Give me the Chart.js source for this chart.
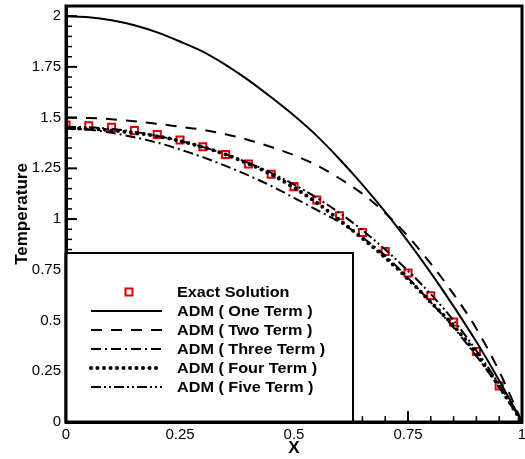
<!DOCTYPE html>
<html>
<head>
<meta charset="utf-8">
<script src="https://cdn.jsdelivr.net/npm/chart.js@4.4.0/dist/chart.umd.min.js"></script>
<style>
  html, body { margin: 0; padding: 0; background: #fff; }
  #wrap { width: 525px; height: 459px; }
</style>
</head>
<body>
<div id="wrap"><canvas id="c" width="525" height="459"></canvas></div>
<script>
const xValues   = [0,0.05,0.1,0.15,0.2,0.25,0.3,0.35,0.4,0.45,0.5,0.55,0.6,0.65,0.7,0.75,0.8,0.85,0.9,0.95,1.0];
const exact     = [1.464,1.460,1.452,1.436,1.417,1.390,1.356,1.318,1.271,1.221,1.160,1.094,1.016,0.934,0.840,0.734,0.622,0.492,0.347,0.178,0];
const oneTerm   = [2.0,1.995,1.98,1.955,1.92,1.875,1.825,1.76,1.685,1.6,1.51,1.41,1.295,1.17,1.035,0.89,0.735,0.57,0.395,0.205,0];
const twoTerm   = [1.50,1.498,1.492,1.482,1.47,1.455,1.44,1.418,1.39,1.355,1.315,1.265,1.2,1.125,1.03,0.915,0.78,0.63,0.46,0.25,0];
const threeTerm = [1.446,1.44,1.425,1.403,1.377,1.343,1.305,1.262,1.215,1.163,1.105,1.045,0.985,0.91,0.82,0.71,0.59,0.465,0.325,0.17,0];
const fourTerm  = [1.448,1.445,1.437,1.425,1.408,1.385,1.355,1.318,1.273,1.22,1.155,1.08,0.995,0.905,0.81,0.705,0.59,0.475,0.335,0.175,0];
const fiveTerm  = [1.455,1.452,1.444,1.43,1.41,1.386,1.355,1.32,1.277,1.228,1.17,1.105,1.03,0.945,0.85,0.745,0.63,0.5,0.352,0.185,0];
const seriesLabels = ['Exact Solution','ADM ( One Term )','ADM ( Two Term )','ADM ( Three Term )','ADM ( Four Term )','ADM ( Five Term )'];
const xTicks = [0,0.25,0.5,0.75,1];
const yTicks = [0,0.25,0.5,0.75,1,1.25,1.5,1.75,2];
const xTitle = 'X';
const yTitle = 'Temperature';

const FONT = "'Liberation Sans', Arial, Helvetica, sans-serif";
const toPts = ys => xValues.map((x, i) => ({x: x, y: ys[i]}));

function lineDs(label, ys, dash, width, cap, order) {
  return {
    label: label, data: toPts(ys), borderColor: '#000', backgroundColor: '#000',
    borderWidth: width, borderDash: dash, borderCapStyle: cap || 'butt',
    pointRadius: 0, fill: false, cubicInterpolationMode: 'monotone', order: order
  };
}

const datasets = [
  {
    label: seriesLabels[0], data: toPts(exact), showLine: false,
    pointStyle: 'rect', pointRadius: 5, pointBorderWidth: 2,
    pointBorderColor: '#e00000', pointBackgroundColor: 'rgba(255,255,255,0)',
    borderColor: '#e00000', order: 10
  },
  lineDs(seriesLabels[1], oneTerm, [], 2, 'butt', 1),
  lineDs(seriesLabels[2], twoTerm, [11, 9], 2, 'butt', 2),
  lineDs(seriesLabels[3], threeTerm, [10, 4, 2, 4], 2, 'butt', 3),
  lineDs(seriesLabels[4], fourTerm, [0, 6.5], 4, 'round', 4),
  lineDs(seriesLabels[5], fiveTerm, [10, 3, 2, 3, 2, 3], 2, 'butt', 5)
];

const decorPlugin = {
  id: 'decor',
  afterDatasetsDraw(chart) {
    const ctx = chart.ctx;
    const ca = chart.chartArea;
    const xs = chart.scales.x, ys = chart.scales.y;
    ctx.save();
    ctx.strokeStyle = '#000';
    // inward ticks
    const minor = 0.05;
    for (let k = 0; k <= 40; k++) {
      const v = Math.round(k * minor * 100) / 100;
      const major = Math.abs(v / 0.25 - Math.round(v / 0.25)) < 1e-6;
      const len = major ? 11 : 6;
      ctx.lineWidth = major ? 2 : 1.5;
      if (v <= 2) {
        const py = ys.getPixelForValue(v);
        ctx.beginPath(); ctx.moveTo(ca.left, py); ctx.lineTo(ca.left + len, py); ctx.stroke();
      }
      if (v <= 1) {
        const px = xs.getPixelForValue(v);
        ctx.beginPath(); ctx.moveTo(px, ca.bottom); ctx.lineTo(px, ca.bottom - len); ctx.stroke();
      }
    }
    // frame
    ctx.lineWidth = 3;
    ctx.strokeRect(ca.left, ca.top, ca.right - ca.left, ca.bottom - ca.top);

    // legend box
    const lx0 = ca.left, lx1 = 353, ly0 = 253, ly1 = ca.bottom;
    ctx.fillStyle = '#fff';
    ctx.fillRect(lx0, ly0, lx1 - lx0, ly1 - ly0);
    ctx.lineWidth = 2;
    ctx.strokeRect(lx0, ly0, lx1 - lx0, ly1 - ly0);
    ctx.lineWidth = 3;
    ctx.beginPath(); ctx.moveTo(ca.left, ly0); ctx.lineTo(ca.left, ly1); ctx.lineTo(lx1, ly1); ctx.stroke();

    const rowY0 = 292, rowDy = 19, sx0 = 91, sx1 = 162, tx = 177;
    ctx.font = 'bold 15px ' + FONT;
    ctx.textBaseline = 'middle';
    ctx.textAlign = 'left';
    chart.data.datasets.forEach((ds, i) => {
      const y = rowY0 + i * rowDy;
      if (ds.showLine === false) {
        ctx.setLineDash([]);
        ctx.strokeStyle = ds.pointBorderColor;
        ctx.lineWidth = 2;
        const s = 3.5;
        ctx.strokeRect(129 - s, y - s, 2 * s, 2 * s);
      } else {
        ctx.strokeStyle = ds.borderColor;
        ctx.lineWidth = ds.borderWidth;
        ctx.lineCap = ds.borderCapStyle;
        ctx.setLineDash(ds.borderDash || []);
        ctx.beginPath(); ctx.moveTo(sx0, y); ctx.lineTo(sx1, y); ctx.stroke();
        ctx.lineCap = 'butt';
      }
      ctx.setLineDash([]);
      ctx.fillStyle = '#000';
      ctx.save();
      ctx.translate(tx, y + 1);
      ctx.scale(1.08, 1);
      ctx.fillText(ds.label, 0, 0);
      ctx.restore();
    });
    ctx.restore();
  }
};

const fmt = v => String(Math.round(v * 100) / 100);

new Chart(document.getElementById('c'), {
  type: 'line',
  data: { datasets: datasets },
  plugins: [decorPlugin],
  options: {
    responsive: false,
    animation: false,
    layout: { autoPadding: false, padding: { top: 6, right: 3, left: 0, bottom: 0 } },
    plugins: { legend: { display: false }, tooltip: { enabled: false } },
    scales: {
      x: {
        type: 'linear', min: 0, max: 1,
        afterBuildTicks(s) { s.ticks = xTicks.map(v => ({value: v})); },
        afterFit(s) { s.height = 37; s.paddingLeft = 0; s.paddingRight = 0; },
        grid: { display: false, drawTicks: false },
        border: { display: true, color: '#000', width: 3 },
        ticks: { color: '#000', padding: 4, maxRotation: 0, autoSkip: false, callback: fmt, font: { family: FONT, size: 15 } },
        title: { display: true, text: xTitle, color: '#000', padding: { top: 0, bottom: 0 }, font: { family: FONT, size: 17, weight: 'bold' } }
      },
      y: {
        type: 'linear', min: 0, max: 2.05,
        afterBuildTicks(s) { s.ticks = yTicks.map(v => ({value: v})); },
        afterFit(s) { s.width = 66; s.paddingTop = 0; s.paddingBottom = 0; },
        grid: { display: false, drawTicks: false },
        border: { display: true, color: '#000', width: 3 },
        ticks: { color: '#000', padding: 5, autoSkip: false, callback: fmt, font: { family: FONT, size: 15 } },
        title: { display: true, text: yTitle, color: '#000', padding: { top: 12, bottom: 0 }, font: { family: FONT, size: 17, weight: 'bold' } }
      }
    }
  }
});
</script>
</body>
</html>
